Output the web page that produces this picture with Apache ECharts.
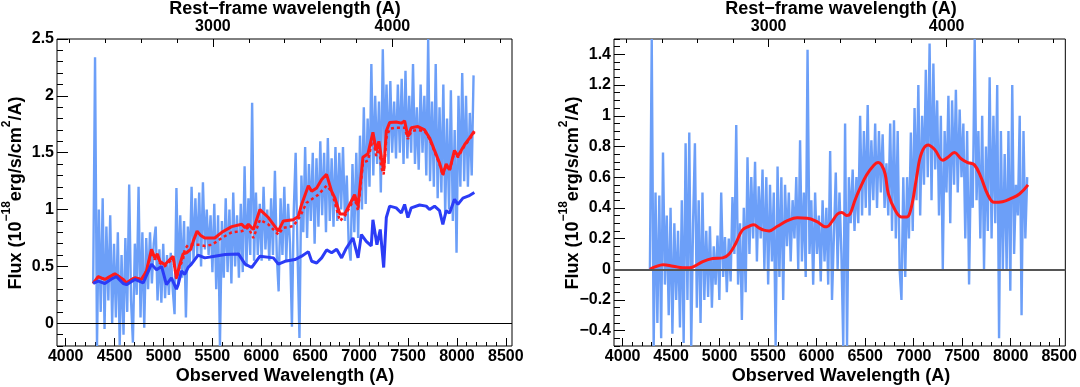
<!DOCTYPE html>
<html>
<head>
<meta charset="utf-8">
<script src="https://cdn.jsdelivr.net/npm/echarts@6/dist/echarts.min.js"></script>
<style>
html, body { margin: 0; padding: 0; background: #fff; }
#chart { width: 1080px; height: 387px; }
</style>
</head>
<body>
<div id="chart"></div>
<script>
// observed spectrum, one sample every ~19.35 A starting at 4281 A
var waveStart = 4281, waveStep = 19.35;

// left panel: observed flux (noisy)
var leftNoise = [
  0.35, 2.34, -0.2, 1.0, 0.1, 1.1, -0.05, 0.85, 0.2, 0.95,
  0.0, 0.7, 0.05, 0.8, -0.19, 0.6, -0.1, 0.75, 0.1, 1.22,
  0.2, -0.17, 0.7, 0.25, 1.2, 0.05, 0.8, -0.04, 0.75, 0.3,
  0.8, 0.35, 0.7, 0.85, 0.2, 0.65, 0.18, 0.7, 0.22, 0.6,
  0.25, 0.62, 0.3, 0.08, 1.19, 0.35, 0.95, 0.4, 0.9, 0.05,
  0.85, 0.5, 1.2, 0.55, 1.1, 0.6, 1.15, 0.5, 1.24, 0.65,
  1.0, 0.6, 0.95, 0.45, 1.05, 0.3, 0.95, -0.2, 0.9, 0.4,
  1.1, 0.45, 1.0, 0.35, 1.15, 0.5, 0.95, 0.4, 1.05, 0.45,
  1.38, 0.5, 1.1, 0.6, 1.94, 0.55, 1.15, 0.6, 1.05, 0.55,
  1.2, 0.65, 1.0, 0.55, 1.1, 0.6, 1.34, 0.6, 0.28, 1.1,
  0.6, 1.2, 0.55, 1.05, 0.7, -0.03, 1.0, 1.5, 0.6, -0.13,
  1.3, 0.8, 1.55, 0.75, 1.4, 0.9, 1.5, 0.7, 1.45, 0.85,
  1.6, 0.95, 1.5, 0.8, 1.63, 0.9, 1.45, 0.85, 1.55, 0.9,
  1.5, 1.0, 1.55, 0.9, 1.3, 0.7, 0.55, 1.4, 0.8, 1.5,
  0.75, 1.65, 1.0, 1.9, 1.05, 1.8, 1.2, 2.28, 1.3, 2.0,
  1.4, 1.95, 1.15, 2.41, 1.5, 2.1, 1.4, 2.13, 1.5, 1.95,
  1.45, 2.1, 1.5, 2.15, 1.4, 2.22, 1.45, 2.0, 1.5, 2.28,
  1.4, 1.9, 1.35, 2.1, 1.5, 2.0, 1.3, 2.5, 1.25, 1.95,
  1.2, 2.28, 1.1, 1.9, 1.15, 2.1, 0.95, 1.8, 1.0, 2.05,
  0.9, 1.7, 0.62, 2.0, 1.2, 2.2, 1.25, 2.0, 1.2, 1.85,
  1.3, 2.18
];

// left panel: red model (solid)
var redWave = [4281, 4332, 4400, 4451, 4503, 4554, 4588, 4622, 4673, 4707,
  4774, 4826, 4877, 4911, 4938, 4962, 5013, 5047, 5098, 5132,
  5166, 5200, 5235, 5278, 5303, 5343, 5377, 5422, 5524, 5596,
  5697, 5800, 5834, 5868, 5919, 5986, 6072, 6174, 6225, 6327,
  6378, 6412, 6481, 6515, 6566, 6617, 6667, 6719, 6753, 6804,
  6852, 6903, 6954, 6989, 7039, 7090, 7141, 7175, 7202, 7227,
  7251, 7278, 7312, 7379, 7431, 7465, 7499, 7533, 7601, 7670,
  7720, 7771, 7822, 7856, 7890, 7925, 7975, 8010, 8078, 8130, 8178];
var redFlux = [0.35, 0.41, 0.385, 0.41, 0.435, 0.405, 0.385, 0.355, 0.385, 0.4,
  0.385, 0.46, 0.65, 0.575, 0.61, 0.545, 0.515, 0.545, 0.59, 0.4,
  0.515, 0.61, 0.62, 0.65, 0.72, 0.81, 0.775, 0.75, 0.75, 0.8,
  0.85, 0.87, 0.84, 0.87, 0.825, 1.0, 0.93, 0.81, 0.9, 0.91,
  0.94, 1.045, 1.21, 1.16, 1.19, 1.265, 1.31, 1.16, 1.1, 0.96,
  0.96, 1.045, 1.13, 1.03, 1.46, 1.49, 1.68, 1.52, 1.6, 1.46,
  1.34, 1.69, 1.765, 1.77, 1.76, 1.78, 1.64, 1.72, 1.73, 1.70,
  1.63, 1.52, 1.41, 1.31, 1.40, 1.35, 1.52, 1.47, 1.57, 1.63, 1.69];

// left panel: red model (dotted)
var dotWave = [4281, 4332, 4400, 4451, 4503, 4554, 4588, 4622, 4673, 4707,
  4774, 4826, 4877, 4911, 4938, 4962, 5013, 5047, 5098, 5132,
  5166, 5200, 5217, 5251, 5319, 5370, 5422, 5493, 5596, 5697,
  5800, 5868, 5919, 5986, 6072, 6174, 6225, 6327, 6396, 6463,
  6515, 6582, 6667, 6719, 6804, 6852, 6903, 6954, 6989, 7039,
  7090, 7141, 7175, 7202, 7227, 7251, 7278, 7312, 7379, 7465,
  7499, 7533, 7601, 7670, 7720, 7771, 7822, 7856, 7890, 7925,
  7975, 8010, 8078, 8130, 8178];
var dotFlux = [0.35, 0.41, 0.385, 0.41, 0.435, 0.405, 0.385, 0.355, 0.385, 0.4,
  0.385, 0.46, 0.63, 0.56, 0.59, 0.53, 0.5, 0.53, 0.57, 0.39,
  0.5, 0.56, 0.65, 0.69, 0.69, 0.69, 0.68, 0.69, 0.75, 0.8,
  0.81, 0.84, 0.75, 0.91, 0.87, 0.78, 0.84, 0.855, 0.94, 1.06,
  1.09, 1.13, 1.21, 1.16, 0.9, 0.94, 1.02, 1.1, 0.99, 1.41,
  1.43, 1.63, 1.47, 1.56, 1.37, 1.31, 1.63, 1.71, 1.72, 1.72,
  1.62, 1.69, 1.70, 1.69, 1.62, 1.51, 1.40, 1.30, 1.39, 1.34,
  1.51, 1.46, 1.56, 1.62, 1.68];

// left panel: blue model
var blueWave = [4281, 4332, 4400, 4469, 4519, 4588, 4622, 4707, 4792, 4877,
  4928, 4980, 5030, 5081, 5132, 5150, 5184, 5217, 5251, 5285,
  5354, 5422, 5524, 5630, 5766, 5834, 5901, 5986, 6123, 6174,
  6242, 6344, 6412, 6481, 6515, 6566, 6617, 6667, 6719, 6770,
  6821, 6869, 6937, 6989, 7023, 7073, 7124, 7141, 7182, 7216,
  7251, 7278, 7312, 7379, 7431, 7465, 7499, 7533, 7618, 7686,
  7720, 7771, 7822, 7856, 7890, 7925, 7975, 8010, 8061, 8120, 8178];
var blueFlux = [0.35, 0.37, 0.35, 0.39, 0.41, 0.35, 0.34, 0.385, 0.355, 0.52,
  0.47, 0.5, 0.34, 0.4, 0.3, 0.34, 0.46, 0.43, 0.49, 0.52,
  0.6, 0.575, 0.59, 0.605, 0.61, 0.52, 0.49, 0.59, 0.575, 0.52,
  0.545, 0.56, 0.59, 0.63, 0.545, 0.53, 0.575, 0.645, 0.62, 0.65,
  0.575, 0.66, 0.75, 0.575, 0.78, 0.72, 0.68, 0.91, 0.69, 0.825,
  0.49, 0.93, 1.03, 1.015, 0.97, 1.045, 0.93, 1.015, 1.04, 1.03,
  1.0, 1.03, 0.99, 0.87, 0.99, 0.97, 1.09, 1.045, 1.1, 1.12, 1.15];

// right panel: residual flux (noisy)
var rightNoise = [
  0.0, 1.5, -0.5, 0.5, -0.35, 0.48, -0.45, 0.76, -0.1, 0.35,
  -0.3, 0.4, -0.42, 0.3, -0.2, 0.25, -0.38, 0.45, -0.48, 0.82,
  -0.2, 0.89, -0.5, 0.3, 0.82, -0.25, 0.45, -0.35, 0.5, -0.2,
  0.25, -0.18, 0.28, -0.25, 0.15, -0.1, 0.22, -0.2, 0.5, -0.05,
  0.21, -0.15, 0.2, -0.08, 0.47, 0.1, 0.94, -0.1, 0.3, -0.33,
  0.4, -0.15, 0.73, 0.1, 0.6, 0.2, 0.7, 0.05, 0.54, 0.2,
  0.65, 0.0, 0.6, -0.1, 0.55, 0.05, 0.5, -0.5, 0.67, -0.05,
  0.6, -0.2, 0.55, 0.15, 0.5, 0.05, 0.45, 0.2, 0.6, 0.0,
  0.84, 0.05, 0.5, -0.05, 1.43, 0.1, 0.45, -0.1, 0.5, 0.1,
  0.35, -0.08, 0.45, 0.05, 0.4, -0.1, 0.77, -0.2, 0.2, 0.63,
  0.0, 0.5, 0.1, -0.5, 0.95, -0.5, 0.6, 0.3, 0.65, 0.25,
  0.6, 0.3, 1.0, 0.35, 0.9, 0.4, 1.07, 0.35, 0.84, 0.45,
  0.95, 0.4, 0.9, 0.5, 0.88, 0.4, 0.69, 0.35, 0.95, 0.25,
  0.97, 0.2, 0.9, 0.0, -0.2, 0.6, -0.05, 0.6, 0.2, 0.89,
  0.25, 1.05, 0.45, 1.2, 0.35, 1.0, 0.55, 1.3, 0.6, 1.47,
  0.45, 1.34, 0.65, 1.1, 0.35, 1.0, 0.0, 0.9, 0.5, 1.13,
  0.3, 1.1, 0.55, 1.17, 0.5, 1.04, 0.6, 0.95, 0.2, 0.9,
  -0.1, 0.7, 0.4, 1.5, 0.45, 0.9, 0.2, 1.0, 0.0, 0.8,
  0.25, 1.25, 0.2, 1.0, 0.3, 1.2, -0.45, 0.9, 0.0, 0.75,
  0.0, 0.9, -0.14, 1.2, 0.1, 0.55, 0.35, 1.0, -0.3, 0.9,
  0.2, 0.6
];

// right panel: smooth red model
var rWave = [4281, 4332, 4417, 4520, 4622, 4690, 4741, 4826, 4928, 5030,
  5098, 5167, 5234, 5303, 5353, 5405, 5456, 5510, 5595, 5698,
  5799, 5902, 6003, 6072, 6106, 6157, 6215, 6259, 6310, 6344,
  6395, 6446, 6514, 6583, 6634, 6668, 6706, 6740, 6808, 6876,
  6927, 6978, 7030, 7080, 7149, 7216, 7301, 7353, 7420, 7489,
  7557, 7626, 7693, 7761, 7830, 7915, 8000, 8090, 8178];
var rFlux = [0.0, 0.015, 0.03, 0.02, 0.01, 0.01, 0.02, 0.05, 0.07, 0.074,
  0.1, 0.17, 0.255, 0.28, 0.29, 0.27, 0.255, 0.25, 0.28, 0.316,
  0.335, 0.333, 0.31, 0.28, 0.277, 0.31, 0.36, 0.37, 0.35, 0.36,
  0.45, 0.527, 0.614, 0.673, 0.695, 0.68, 0.62, 0.49, 0.386, 0.34,
  0.34, 0.41, 0.6, 0.756, 0.81, 0.78, 0.71, 0.73, 0.76, 0.72,
  0.695, 0.68, 0.6, 0.49, 0.436, 0.44, 0.46, 0.49, 0.55];

// axes
var xMin = 3911, xMax = 8563;
var zPlus1 = 1.835;   // observed / rest
var obsLabels = [4000, 4500, 5000, 5500, 6000, 6500, 7000, 7500, 8000, 8500];
var restLabels = [3000, 4000];
var leftYLabels = [0, 0.5, 1, 1.5, 2, 2.5];
var rightYLabels = [-0.4, -0.2, 0, 0.2, 0.4, 0.6, 0.8, 1, 1.2, 1.4];

var FONT = 'Liberation Sans';

function steps(a, b, s) {
    var out = [];
    for (var v = a; v <= b + 1e-9; v += s) out.push(Math.round(v * 1000) / 1000);
    return out;
}
function pairs(xs, ys) {
    var out = [];
    for (var i = 0; i < ys.length; i++) out.push([xs[i], ys[i]]);
    return out;
}
var noiseWave = [];
for (var i = 0; i < leftNoise.length; i++) noiseWave.push(Math.round(waveStart + i * waveStep));

function lbl(extra) {
    var o = { color: '#000', fontFamily: FONT, fontWeight: 'bold', fontSize: 16 };
    for (var k in extra) o[k] = extra[k];
    return o;
}
function minusFmt(v) {
    return (v < 0 ? '\u2212' : '') + Math.abs(v);
}

function makeAxis(g, pos, min, max, ticks, len, labels, margin) {
    return {
        type: 'value', gridIndex: g, position: pos, min: min, max: max,
        axisLine: { show: false, onZero: false },
        splitLine: { show: false },
        axisTick: { show: true, inside: true, length: len, customValues: ticks,
                    lineStyle: { color: '#000', width: 1 } },
        axisLabel: labels ? lbl({ customValues: labels, margin: margin, formatter: minusFmt })
                          : { show: false }
    };
}

function xAxesFor(g) {
    return [
        makeAxis(g, 'bottom', xMin, xMax, obsLabels, 8, obsLabels, 3),
        makeAxis(g, 'bottom', xMin, xMax, steps(4000, 8500, 100), 4, null),
        makeAxis(g, 'top', xMin / zPlus1, xMax / zPlus1, restLabels, 8, restLabels, 4),
        makeAxis(g, 'top', xMin / zPlus1, xMax / zPlus1, steps(2200, 4600, 200), 4, null)
    ];
}

var chart = echarts.init(document.getElementById('chart'), null, { renderer: 'canvas' });

function titleText(x, y, txt) {
    return { type: 'text', x: x, y: y, silent: true,
        style: { text: txt, fill: '#000', font: 'bold 18px "Liberation Sans"',
                 align: 'center', verticalAlign: 'middle' } };
}
function yTitle(x, y) {
    return { type: 'text', x: x, y: y, rotation: Math.PI / 2, silent: true,
        style: {
            text: '{n|Flux (10}{s|\u221218}{n|erg/s/cm}{s|2}{n|/A)}',
            align: 'center', verticalAlign: 'middle',
            rich: {
                n: { fontFamily: FONT, fontWeight: 'bold', fontSize: 18, fill: '#000',
                     verticalAlign: 'bottom', lineHeight: 24 },
                s: { fontFamily: FONT, fontWeight: 'bold', fontSize: 12, fill: '#000',
                     verticalAlign: 'top', lineHeight: 13 }
            }
        } };
}

var noiseStyle = { color: '#6c9ff8', width: 2.4, join: 'miter', miterLimit: 2 };

var option = {
    animation: false,
    backgroundColor: '#fff',
    grid: [
        { left: 57, top: 39, width: 455, height: 307, show: true,
          borderColor: '#000', borderWidth: 1, containLabel: false },
        { left: 614, top: 39, width: 454, height: 307, show: true,
          borderColor: '#000', borderWidth: 1, containLabel: false }
    ],
    xAxis: xAxesFor(0).concat(xAxesFor(1)),
    yAxis: [
        makeAxis(0, 'left', -0.2, 2.5, leftYLabels, 11, leftYLabels, 3),
        makeAxis(0, 'left', -0.2, 2.5, steps(-0.2, 2.5, 0.1), 6, null),
        makeAxis(1, 'left', -0.5, 1.5, rightYLabels, 11, rightYLabels, 3),
        makeAxis(1, 'left', -0.5, 1.5, steps(-0.5, 1.5, 0.05), 6, null)
    ],
    graphic: [
        titleText(285, 9, 'Rest\u2212frame wavelength (A)'),
        titleText(285, 376, 'Observed Wavelength (A)'),
        titleText(841, 9, 'Rest\u2212frame wavelength (A)'),
        titleText(841, 376, 'Observed Wavelength (A)'),
        yTitle(13, 193),
        yTitle(570, 193)
    ],
    series: [
        {
            type: 'line', xAxisIndex: 0, yAxisIndex: 0,
            data: pairs(noiseWave, leftNoise),
            showSymbol: false, symbol: 'none',
            lineStyle: noiseStyle,
            markLine: {
                silent: true, symbol: ['none', 'none'], label: { show: false },
                lineStyle: { color: '#000', width: 1, type: 'solid' },
                data: [{ yAxis: 0 }]
            }
        },
        {
            type: 'line', xAxisIndex: 0, yAxisIndex: 0,
            data: pairs(dotWave, dotFlux), showSymbol: false, symbol: 'none',
            lineStyle: { color: '#ff1a1a', width: 2.5, type: [3, 3] }
        },
        {
            type: 'line', xAxisIndex: 0, yAxisIndex: 0,
            data: pairs(redWave, redFlux), showSymbol: false, symbol: 'none',
            lineStyle: { color: '#ff1a1a', width: 3 }
        },
        {
            type: 'line', xAxisIndex: 0, yAxisIndex: 0,
            data: pairs(blueWave, blueFlux), showSymbol: false, symbol: 'none',
            lineStyle: { color: '#2b3cf6', width: 3 }
        },
        {
            type: 'line', xAxisIndex: 4, yAxisIndex: 2,
            data: pairs(noiseWave, rightNoise),
            showSymbol: false, symbol: 'none',
            lineStyle: noiseStyle,
            markLine: {
                silent: true, symbol: ['none', 'none'], label: { show: false },
                lineStyle: { color: '#555', width: 2, type: 'solid' },
                data: [{ yAxis: 0 }]
            }
        },
        {
            type: 'line', xAxisIndex: 4, yAxisIndex: 2,
            data: pairs(rWave, rFlux), showSymbol: false, symbol: 'none',
            smooth: 0.4,
            lineStyle: { color: '#ff1a1a', width: 3 }
        }
    ]
};

chart.setOption(option);
</script>
</body>
</html>
